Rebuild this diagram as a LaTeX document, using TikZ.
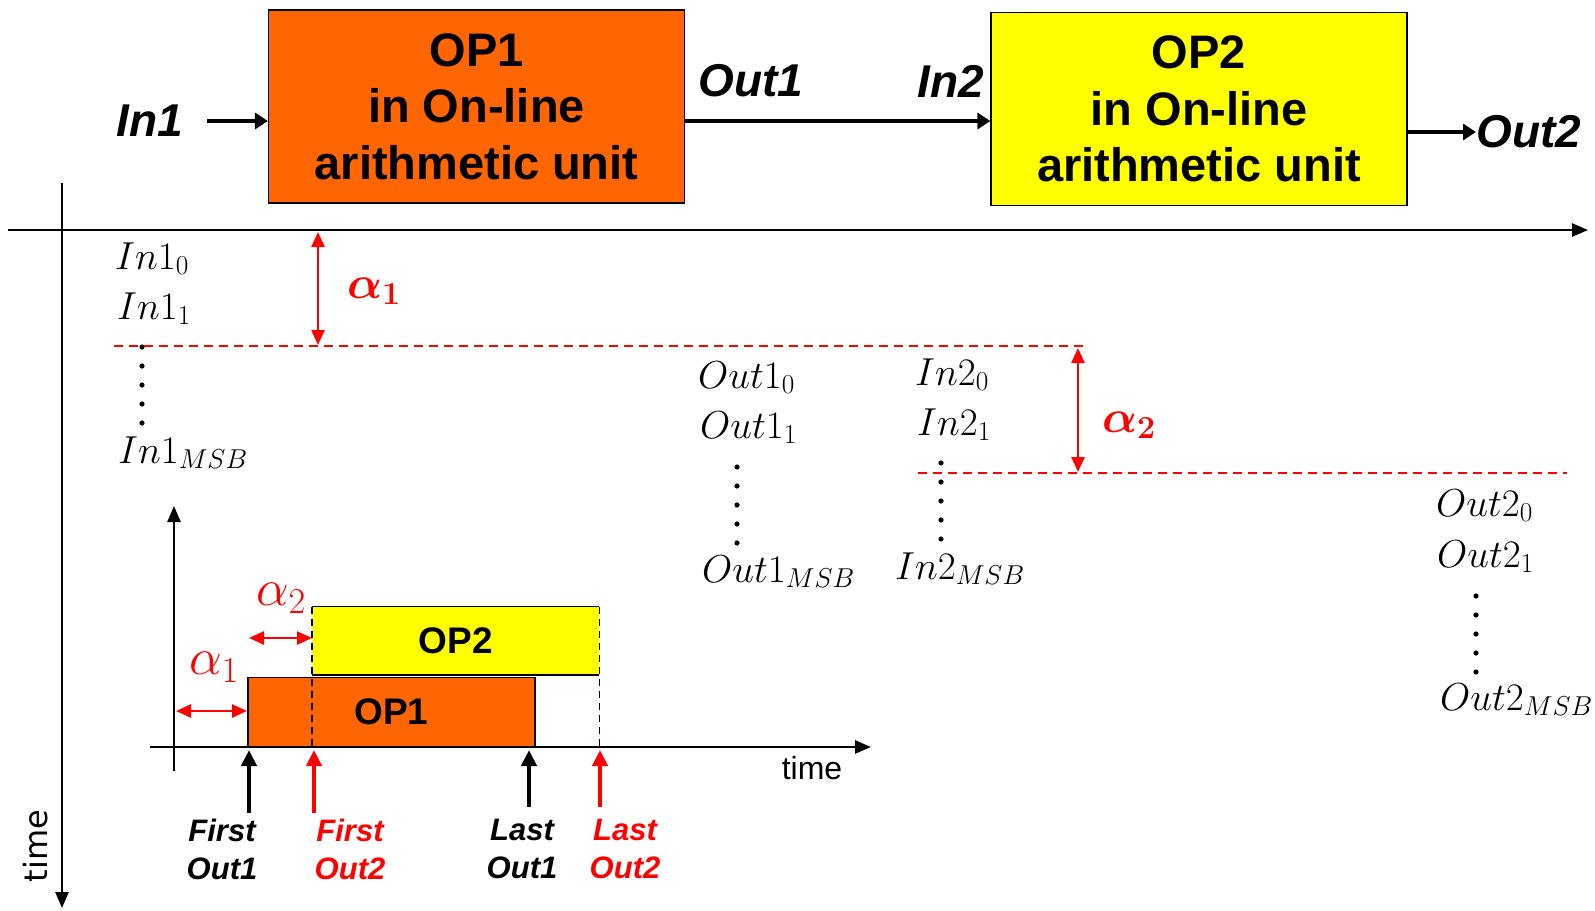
\RequirePackage{fix-cm}
\documentclass[tikz,border=0pt]{standalone}
\usepackage{amsmath,bm}
\usepackage[no-math]{fontspec}
\setmainfont{Liberation Sans}
\newfontfamily\dejavu{DejaVu Sans}
\usetikzlibrary{arrows.meta}
\definecolor{opor}{HTML}{FF6600}
\definecolor{opyel}{HTML}{FFFF00}
\begin{document}
\begin{tikzpicture}[x=1pt,y=-1pt,
  unitbox/.style={draw=black, line width=1.2pt, minimum width=416pt, minimum height=193pt,
    inner sep=0pt, align=center, font=\fontsize{47}{56.5}\selectfont\bfseries},
  sig/.style={inner sep=0pt, font=\fontsize{46}{50}\selectfont\bfseries\itshape},
  bit/.style={inner sep=0pt, anchor=base west, font=\fontsize{39}{42}\selectfont},
  lagtxt/.style={inner sep=0pt, text=red, font=\fontsize{46}{48}\selectfont},
  flow/.style={line width=4pt, -{Triangle[length=13pt,width=16pt]}},
  axis/.style={line width=2.5pt, -{Triangle[length=16pt,width=13pt]}},
  lag/.style={red, line width=2.5pt, {Triangle[length=15pt,width=13pt]}-{Triangle[length=15pt,width=13pt]}},
  gapline/.style={red, line width=1.6pt, dash pattern=on 9pt off 6pt},
  bar/.style={minimum width=287pt, minimum height=69pt, inner sep=0pt,
    font=\fontsize{37}{40}\selectfont\bfseries},
  guide/.style={line width=1.6pt, dash pattern=on 7pt off 5pt},
  evt/.style={line width=4pt, -{Triangle[length=16pt,width=15pt]}},
  evtlbl/.style={align=center, inner sep=0pt, font=\fontsize{31}{38}\selectfont\bfseries\itshape}
]
\useasboundingbox (0,0) rectangle (1595,910);

% --- block diagram of the two chained operators ---
\node[unitbox, fill=opor] (op1) at (476.5,106.5) {OP1\\in On-line\\arithmetic unit};
\node[unitbox, fill=opyel] (op2) at (1199,109) {OP2\\in On-line\\arithmetic unit};
\node[sig] (in1) at (150,121) {In1};
\node[sig] (out1) at (751,81) {Out1};
\node[sig] (in2) at (951,81) {In2};
\node[sig, anchor=west] (out2) at (1476,132) {Out2};
\draw[flow] ([xshift=24pt]in1.east) -- (op1.west |- in1.center);
\draw[flow] (op1.east |- in1.center) -- (op2.west |- in1.center);
\draw[flow] (op2.east |- out2.west) -- (out2.west);

% --- main axes ---
\coordinate (t0) at (8,230);
\coordinate (t1) at (1588,230);
\coordinate (v0) at (62,183);
\coordinate (v1) at (62,908);
\draw[axis] (t0) -- (t1);
\draw[axis] (v0) -- (v1);
\node[rotate=90, inner sep=0pt, font=\dejavu\fontsize{32}{34}\selectfont] (vtime) at (36,846) {time};

% --- digit streams ---
\node[bit] (i10) at (115,269) {$In1_0$};
\node[bit] (i11) at (117,319) {$In1_1$};
\node[bit] (i1m) at (118,463) {$In1_{MSB}$};
\node[bit] (o10) at (698,388) {$Out1_0$};
\node[bit] (o11) at (700,438) {$Out1_1$};
\node[bit] (o1m) at (702,582) {$Out1_{MSB}$};
\node[bit] (i20) at (915,385) {$In2_0$};
\node[bit] (i21) at (917,435) {$In2_1$};
\node[bit] (i2m) at (895,579) {$In2_{MSB}$};
\node[bit] (o20) at (1436,516) {$Out2_0$};
\node[bit] (o21) at (1437,567) {$Out2_1$};
\node[bit] (o2m) at (1440,710) {$Out2_{MSB}$};
\foreach \k in {0,...,4} {
  \fill (142,347+19*\k) circle (2.6pt);
  \fill (737,467+19*\k) circle (2.6pt);
  \fill (941,463+19*\k) circle (2.6pt);
  \fill (1476,596+19*\k) circle (2.6pt);
}

% --- on-line delays ---
\coordinate (g1a) at (114,346);
\coordinate (g1b) at (1088,346);
\coordinate (g2a) at (918,473);
\coordinate (g2b) at (1567,473);
\draw[gapline] (g1a) -- (g1b);
\draw[gapline] (g2a) -- (g2b);
\coordinate (d1a) at (318,232);
\coordinate (d1b) at (318,345);
\coordinate (d2a) at (1078,348);
\coordinate (d2b) at (1078,472);
\draw[lag] (d1a) -- (d1b);
\draw[lag] (d2a) -- (d2b);
\node[lagtxt, anchor=base west] (al1) at (347,298) {$\bm{\alpha}_{\mathbf{1}}$};
\node[lagtxt, anchor=base west] (al2) at (1102,432) {$\bm{\alpha}_{\mathbf{2}}$};

% --- timing chart ---
\coordinate (ix0) at (150,747);
\coordinate (ix1) at (871,747);
\coordinate (iy0) at (174,771);
\coordinate (iy1) at (174,506);
\node[bar, draw=black, line width=1.5pt, fill=opor, anchor=south west] (b1) at (247,747) {OP1};
\node[bar, fill=opyel, anchor=south west, minimum height=68pt] (b2) at (312,675) {OP2};
\draw[line width=1.5pt] (b2.north west) -- (b2.north east);
\draw[line width=1.5pt] (b2.south west) -- (b2.south east);
\draw[guide] (b2.north west) -- (b2.north west |- ix0);
\draw[guide] (b2.north east) -- (b2.north east |- ix0);
\draw[axis] (ix0) -- (ix1);
\draw[axis] (iy0) -- (iy1);
\node[inner sep=0pt, font=\fontsize{32}{34}\selectfont] (itime) at (812,768) {time};

\coordinate (la1) at (176,711);
\coordinate (la2) at (249,638);
\draw[lag] (la1) -- (la1 -| b1.west);
\draw[lag] (la2) -- (la2 -| b2.west);
\node[lagtxt, font=\fontsize{52}{54}\selectfont] (bl1) at (214,667) {$\alpha_1$};
\node[lagtxt, font=\fontsize{52}{54}\selectfont] (bl2) at (281,598) {$\alpha_2$};

\coordinate (e1) at (249,813);
\coordinate (e2) at (314,813);
\coordinate (e3) at (529,807);
\coordinate (e4) at (600,807);
\draw[evt] (e1) -- ([yshift=-3pt]e1 |- ix0);
\draw[evt, red] (e2) -- ([yshift=-3pt]e2 |- ix0);
\draw[evt] (e3) -- ([yshift=-3pt]e3 |- ix0);
\draw[evt, red] (e4) -- ([yshift=-3pt]e4 |- ix0);
\node[evtlbl] (f1) at (222,849) {First\\Out1};
\node[evtlbl, text=red] (f2) at (350,849) {First\\Out2};
\node[evtlbl] (l1) at (522,849) {Last\\Out1};
\node[evtlbl, text=red] (l2) at (625,849) {Last\\Out2};
\end{tikzpicture}
\end{document}
